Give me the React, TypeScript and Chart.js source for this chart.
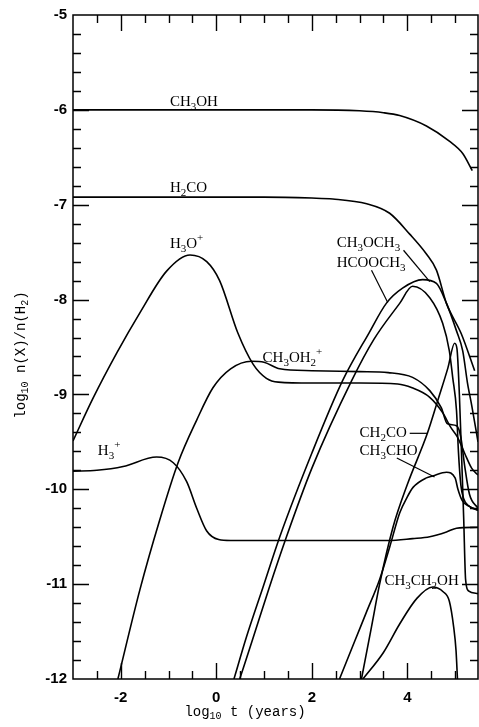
import React, { useEffect, useRef } from 'react';
import { Chart, registerables } from 'chart.js';
Chart.register(...registerables);

// ---- data (log10 t in years, log10 n(X)/n(H2)) ----
const ch3ohX = [-3, 0, 2, 3, 3.5, 3.84, 4.4, 4.88, 5.16, 5.36];
const ch3ohY = [-6.0, -6.0, -6.0, -6.01, -6.03, -6.06, -6.17, -6.33, -6.46, -6.64];

const h2coX = [-3, 0, 1, 2, 2.44, 3.15, 3.63, 4.05, 4.4, 4.61, 4.82, 5.13, 5.41];
const h2coY = [-6.92, -6.92, -6.92, -6.93, -6.94, -6.99, -7.09, -7.31, -7.52, -7.69, -8.04, -8.36, -8.75];

const h3oX = [-3, -2.58, -2.08, -1.6, -1.04, -0.55, -0.2, 0.07, 0.45, 0.77, 1.05, 1.3, 2, 3, 3.8, 4.1, 4.47, 4.75, 4.9, 5.05, 5.2, 5.35, 5.48];
const h3oY = [-9.49, -9.04, -8.56, -8.14, -7.7, -7.53, -7.6, -7.8, -8.35, -8.68, -8.83, -8.87, -8.88, -8.88, -8.89, -8.93, -9.03, -9.2, -9.34, -9.45, -9.62, -9.78, -9.85];

const h3pX = [-3, -2.5, -1.95, -1.25, -0.9, -0.62, -0.41, -0.2, 0.05, 0.3, 1, 2, 3, 3.6, 4.11, 4.47, 4.82, 5.03, 5.48];
const h3pY = [-9.81, -9.8, -9.76, -9.66, -9.72, -9.92, -10.2, -10.44, -10.53, -10.54, -10.54, -10.54, -10.54, -10.54, -10.52, -10.5, -10.45, -10.41, -10.4];

const ch3oh2pX = [-2.06, -1.6, -1.2, -0.8, -0.41, -0.07, 0.3, 0.74, 1.0, 1.33, 2, 3, 3.6, 4.11, 4.47, 4.71, 4.84, 5.03, 5.12, 5.2, 5.3, 5.48];
const ch3oh2pY = [-12, -11.06, -10.35, -9.72, -9.27, -8.93, -8.73, -8.65, -8.66, -8.73, -8.75, -8.76, -8.77, -8.82, -8.96, -9.14, -9.31, -9.33, -9.45, -9.75, -10.05, -10.2];

const ch3och3X = [0.37, 0.63, 0.98, 1.33, 2.0, 2.65, 3.2, 3.56, 3.9, 4.32, 4.61, 4.82, 5.03, 5.16, 5.26, 5.35, 5.48];
const ch3och3Y = [-12, -11.56, -11.03, -10.5, -9.62, -8.85, -8.35, -8.04, -7.88, -7.79, -7.83, -8.04, -8.33, -8.54, -8.88, -9.12, -9.5];

const hcooch3X = [0.49, 0.75, 1.1, 1.47, 2.0, 2.84, 3.3, 3.84, 4.11, 4.47, 4.74, 4.88, 4.95, 5.03, 5.07, 5.12, 5.18, 5.3, 5.48];
const hcooch3Y = [-12, -11.6, -11.05, -10.5, -9.78, -8.85, -8.42, -8.04, -7.86, -7.98, -8.25, -8.54, -8.82, -9.17, -9.6, -9.95, -10.1, -10.18, -10.22];

const ch2coX = [3.04, 3.25, 3.42, 3.7, 4.0, 4.42, 4.64, 4.85, 4.99, 5.04, 5.09, 5.14, 5.18, 5.22, 5.28, 5.48];
const ch2coY = [-12, -11.45, -11.0, -10.4, -9.95, -9.41, -9.06, -8.72, -8.46, -8.52, -9.0, -9.7, -10.3, -10.95, -11.07, -11.1];

const ch3choX = [2.58, 2.9, 3.14, 3.42, 3.63, 3.84, 4.0, 4.12, 4.4, 4.53, 4.82, 5.0, 5.06, 5.15, 5.3, 5.48];
const ch3choY = [-12, -11.6, -11.3, -10.95, -10.61, -10.25, -10.08, -9.98, -9.88, -9.86, -9.82, -9.88, -10.0, -10.12, -10.18, -10.22];

const ch3ch2ohX = [3.07, 3.5, 3.84, 4.2, 4.53, 4.75, 4.88, 4.97, 5.02, 5.05];
const ch3ch2ohY = [-12, -11.72, -11.42, -11.15, -11.03, -11.08, -11.18, -11.45, -11.7, -12];

const xTickLabels = [-2, 0, 2, 4];
const yTickLabels = [-12, -11, -10, -9, -8, -7, -6, -5];

const seriesList = [
  { name: 'CH3OH', x: ch3ohX, y: ch3ohY },
  { name: 'H2CO', x: h2coX, y: h2coY },
  { name: 'H3O+', x: h3oX, y: h3oY },
  { name: 'H3+', x: h3pX, y: h3pY },
  { name: 'CH3OH2+', x: ch3oh2pX, y: ch3oh2pY },
  { name: 'CH3OCH3', x: ch3och3X, y: ch3och3Y },
  { name: 'HCOOCH3', x: hcooch3X, y: hcooch3Y },
  { name: 'CH2CO', x: ch2coX, y: ch2coY },
  { name: 'CH3CHO', x: ch3choX, y: ch3choY },
  { name: 'CH3CH2OH', x: ch3ch2ohX, y: ch3ch2ohY },
];

// species labels: '_' = subscript next char, '^' = superscript next char (placed in data units)
const speciesLabels = [
  { text: 'CH_3OH', x: -0.97, y: -5.96 },
  { text: 'H_2CO', x: -0.97, y: -6.87 },
  { text: 'H_3O^+', x: -0.97, y: -7.46 },
  { text: 'CH_3OCH_3', x: 2.52, y: -7.45 },
  { text: 'HCOOCH_3', x: 2.52, y: -7.66 },
  { text: 'CH_3OH_2^+', x: 0.97, y: -8.66 },
  { text: 'H_3^+', x: -2.48, y: -9.64 },
  { text: 'CH_2CO', x: 3.0, y: -9.45 },
  { text: 'CH_3CHO', x: 3.0, y: -9.64 },
  { text: 'CH_3CH_2OH', x: 3.52, y: -11.01 },
];

const leaders = [
  { x1: 3.92, y1: -7.48, x2: 4.47, y2: -7.81 },
  { x1: 3.25, y1: -7.69, x2: 3.59, y2: -8.03 },
  { x1: 4.05, y1: -9.41, x2: 4.42, y2: -9.41 },
  { x1: 3.78, y1: -9.67, x2: 4.57, y2: -9.87 },
];

const SERIF = '"Liberation Serif", "Times New Roman", serif';
const MONO = '"Liberation Mono", "DejaVu Sans Mono", monospace';

type Fonts = { main: string; small: string; sub: number; sup: number };

function parseRich(text: string) {
  const parts: { t: string; k: 'n' | 'sub' | 'sup' }[] = [];
  for (let i = 0; i < text.length; i++) {
    const c = text[i];
    if (c === '_' && i + 1 < text.length) { parts.push({ t: text[i + 1], k: 'sub' }); i++; }
    else if (c === '^' && i + 1 < text.length) { parts.push({ t: text[i + 1], k: 'sup' }); i++; }
    else parts.push({ t: c, k: 'n' });
  }
  return parts;
}

function measureRich(ctx: CanvasRenderingContext2D, text: string, f: Fonts) {
  let w = 0;
  for (const p of parseRich(text)) {
    ctx.font = p.k === 'n' ? f.main : f.small;
    w += ctx.measureText(p.t).width;
  }
  return w;
}

function drawRich(ctx: CanvasRenderingContext2D, text: string, x: number, y: number, f: Fonts) {
  let cx = x;
  ctx.textBaseline = 'alphabetic';
  ctx.textAlign = 'left';
  for (const p of parseRich(text)) {
    ctx.font = p.k === 'n' ? f.main : f.small;
    const dy = p.k === 'sub' ? f.sub : p.k === 'sup' ? -f.sup : 0;
    ctx.fillText(p.t, cx, y + dy);
    cx += ctx.measureText(p.t).width;
  }
}

const framePlugin = {
  id: 'frame',
  afterDatasetsDraw(chart: any) {
    const ctx: CanvasRenderingContext2D = chart.ctx;
    const xs = chart.scales.x;
    const ys = chart.scales.y;
    const { left, right, top, bottom } = chart.chartArea;
    ctx.save();
    ctx.strokeStyle = '#000';
    ctx.fillStyle = '#000';
    ctx.lineWidth = 1.5;
    ctx.strokeRect(left, top, right - left, bottom - top);
    ctx.lineWidth = 1.4;
    // x ticks every 0.5, long at labelled values
    for (let k = -6; k <= 11; k++) {
      const v = k / 2;
      if (v <= xs.min || v >= xs.max) continue;
      const major = xTickLabels.includes(v);
      const len = major ? 16 : 8;
      const px = Math.round(xs.getPixelForValue(v)) + 0.5;
      ctx.beginPath();
      ctx.moveTo(px, bottom); ctx.lineTo(px, bottom - len);
      ctx.moveTo(px, top); ctx.lineTo(px, top + len);
      ctx.stroke();
    }
    // y ticks every 0.2, long at integers
    for (let k = -60; k <= -25; k++) {
      const v = k / 5;
      if (v <= ys.min || v >= ys.max) continue;
      const major = Number.isInteger(v);
      const len = major ? 16 : 8;
      const py = Math.round(ys.getPixelForValue(v)) + 0.5;
      ctx.beginPath();
      ctx.moveTo(left, py); ctx.lineTo(left + len, py);
      ctx.moveTo(right, py); ctx.lineTo(right - len, py);
      ctx.stroke();
    }
    // leader lines
    ctx.lineWidth = 1.2;
    for (const l of leaders) {
      ctx.beginPath();
      ctx.moveTo(xs.getPixelForValue(l.x1), ys.getPixelForValue(l.y1));
      ctx.lineTo(xs.getPixelForValue(l.x2), ys.getPixelForValue(l.y2));
      ctx.stroke();
    }
    // species labels
    const sf: Fonts = { main: `15px ${SERIF}`, small: `11px ${SERIF}`, sub: 4, sup: 7 };
    for (const s of speciesLabels) {
      drawRich(ctx, s.text, xs.getPixelForValue(s.x), ys.getPixelForValue(s.y), sf);
    }
    // axis titles
    const tf: Fonts = { main: `14px ${MONO}`, small: `10px ${MONO}`, sub: 3, sup: 6 };
    const xt = 'log_1_0 t (years)';
    const xw = measureRich(ctx, xt, tf);
    drawRich(ctx, xt, 245 - xw / 2, 716, tf);
    const yt = 'log_1_0 n(X)/n(H_2)';
    const yw = measureRich(ctx, yt, tf);
    ctx.translate(25, 355);
    ctx.rotate(-Math.PI / 2);
    drawRich(ctx, yt, -yw / 2, 0, tf);
    ctx.restore();
  },
};

export default function App() {
  const ref = useRef<HTMLCanvasElement>(null);
  useEffect(() => {
    if (!ref.current) return;
    const chart = new Chart(ref.current, {
      type: 'line',
      data: {
        datasets: seriesList.map((s) => ({
          label: s.name,
          data: s.x.map((x, i) => ({ x, y: s.y[i] })),
          borderColor: '#000',
          borderWidth: 1.6,
          pointRadius: 0,
          fill: false,
          cubicInterpolationMode: 'monotone' as const,
        })),
      },
      options: {
        responsive: false,
        animation: false,
        devicePixelRatio: 1,
        layout: { padding: { top: 14, right: 1, left: 0, bottom: 0 } },
        plugins: { legend: { display: false }, tooltip: { enabled: false }, title: { display: false } },
        scales: {
          x: {
            type: 'linear',
            min: -3,
            max: 5.48,
            grid: { display: false, drawTicks: false },
            border: { display: false },
            afterBuildTicks: (scale: any) => { scale.ticks = xTickLabels.map((v) => ({ value: v })); },
            afterFit: (scale: any) => { scale.height = 48; },
            ticks: {
              padding: 10,
              color: '#000',
              font: { family: 'Liberation Sans', size: 15, weight: 'bold' },
              callback: (v: any) => String(v),
              maxRotation: 0,
            },
          },
          y: {
            type: 'linear',
            min: -12,
            max: -5,
            grid: { display: false, drawTicks: false },
            border: { display: false },
            afterBuildTicks: (scale: any) => { scale.ticks = yTickLabels.map((v) => ({ value: v })); },
            afterFit: (scale: any) => { scale.width = 73; },
            ticks: {
              padding: 6,
              color: '#000',
              font: { family: 'Liberation Sans', size: 15, weight: 'bold' },
              callback: (v: any) => String(v),
            },
          },
        },
      },
      plugins: [framePlugin],
    } as any);
    return () => chart.destroy();
  }, []);
  return (
    <div style={{ position: 'fixed', left: 0, top: 0, width: 479, height: 727, background: '#fff' }}>
      <canvas ref={ref} width={479} height={727} style={{ display: 'block' }} />
    </div>
  );
}
